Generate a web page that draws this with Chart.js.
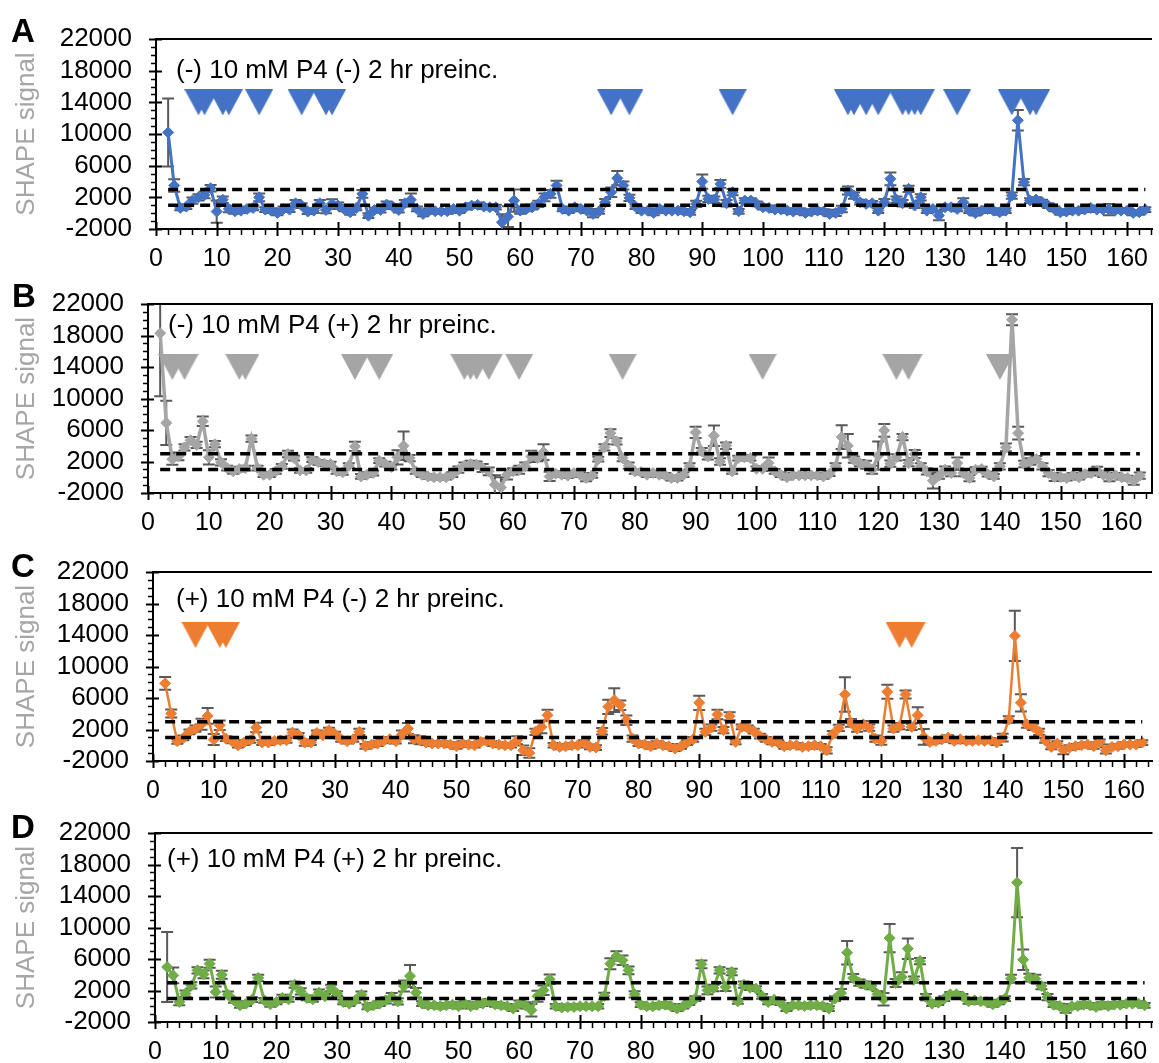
<!DOCTYPE html>
<html>
<head>
<meta charset="utf-8">
<script src="https://cdn.jsdelivr.net/npm/chart.js@4.4.1/dist/chart.umd.min.js"></script>
<style>
  body { margin: 0; background: #fff; width: 1159px; height: 1063px; position: relative; overflow: hidden;
         font-family: "Liberation Sans", Arial, sans-serif; }
  canvas { position: absolute; left: 0; }
  .letter { position: absolute; font-weight: bold; font-size: 33px; line-height: 33px; color: #000; }
  .note { position: absolute; font-size: 26px; line-height: 26px; color: #000; white-space: nowrap; }
</style>
</head>
<body>
<canvas id="chartA" width="1159" height="270" style="top:4px"></canvas>
<canvas id="chartB" width="1159" height="269" style="top:269px"></canvas>
<canvas id="chartC" width="1159" height="269" style="top:537px"></canvas>
<canvas id="chartD" width="1159" height="269" style="top:798px"></canvas>

<div class="letter" style="left:11px;top:14px">A</div>
<div class="letter" style="left:12px;top:279px">B</div>
<div class="letter" style="left:11px;top:549px">C</div>
<div class="letter" style="left:11px;top:810px">D</div>

<div class="note" style="left:176px;top:56px">(-) 10 mM P4 (-) 2 hr preinc.</div>
<div class="note" style="left:168px;top:311px">(-) 10 mM P4 (+) 2 hr preinc.</div>
<div class="note" style="left:176px;top:585px">(+) 10 mM P4 (-) 2 hr preinc.</div>
<div class="note" style="left:167px;top:845px">(+) 10 mM P4 (+) 2 hr preinc.</div>

<script>
// ---------------------------
// Data (nucleotide 2..163)
// ---------------------------
const nt = Array.from({ length: 162 }, (_, i) => i + 2);

const thresholds = [3000, 1000];
const markLevel = 14000;
const yMin = -2000, yMax = 22000, yStep = 4000;
const xStep = 10;

// (-) P4 (-) preinc.
const aSignal = [
  10200, 3500, 660, 830, 1590, 2000, 2300, 3150, 200, 1700,
  530, 240, 320, 530, 660, 2000, 450, 320, 30, 530,
  450, 1250, 960, 200, 320, 1250, 400, 1170, 960, 530,
  110, 660, 2440, -320, 400, 400, 1080, 830, 400, 1250,
  1680, 530, -100, 320, 240, 240, 240, 530, 320, 750,
  960, 1040, 830, 750, 750, -1150, -440, 1590, 320, 530,
  750, 1170, 2000, 2440, 3500, 530, 320, 750, 530, 320,
  -100, 240, 1380, 2650, 4420, 3500, 1930, 830, 320, 320,
  30, 530, 320, 320, 320, 240, 110, 1170, 4000, 1800,
  1720, 3700, 1250, 2650, 240, 1590, 1590, 1170, 750, 660,
  450, 450, 320, 200, 320, 30, 200, 320, 200, -100,
  30, 530, 2860, 2220, 1380, 1170, 1250, 320, 1380, 4340,
  1720, 1250, 3070, 960, 2000, 320, 530, -310, 750, 750,
  530, 1380, 320, 0, 320, 530, 320, 110, 320, 2220,
  11730, 3920, 1590, 1720, 1380, 960, 530, 110, 200, 320,
  320, 450, 660, 450, 450, 450, 320, 320, 320, 30,
  110, 450
];
const aError = [
  4300, 800, 300, 300, 400, 400, 400, 400, 1400, 400,
  400, 300, 300, 300, 300, 500, 300, 300, 300, 300,
  300, 400, 300, 300, 300, 400, 400, 600, 400, 300,
  300, 300, 500, 300, 300, 300, 400, 300, 300, 400,
  800, 300, 300, 300, 300, 300, 300, 300, 300, 300,
  300, 300, 300, 300, 300, 1000, 1300, 1400, 400, 300,
  300, 400, 500, 500, 600, 300, 300, 300, 300, 300,
  400, 300, 400, 600, 900, 500, 400, 300, 300, 300,
  300, 300, 300, 300, 300, 300, 300, 400, 900, 400,
  400, 500, 400, 400, 300, 300, 300, 300, 300, 300,
  300, 300, 300, 300, 300, 300, 300, 300, 300, 300,
  400, 400, 500, 400, 300, 300, 300, 300, 400, 800,
  400, 400, 400, 300, 400, 300, 300, 600, 300, 300,
  300, 500, 300, 300, 300, 300, 300, 300, 300, 400,
  1300, 400, 300, 300, 300, 300, 300, 300, 300, 300,
  300, 300, 300, 300, 300, 700, 300, 300, 300, 300,
  300, 300
];
const aMarks = [7, 8, 11, 12, 17, 24, 28, 29, 75, 78, 95, 114, 115, 117, 119, 123, 124, 125, 126, 132, 141, 144, 145];

// (-) P4 (+) preinc.
const bSignal = [
  18300, 6900, 2300, 2650, 3800, 4700, 4100, 7100, 2530, 4200,
  1900, 1170, 750, 1040, 1170, 4900, 1170, 320, 320, 750,
  1380, 2950, 2440, 870, 870, 2230, 1900, 1720, 1680, 750,
  620, 1470, 3920, 110, 320, 530, 2100, 1680, 1300, 2530,
  4000, 2440, 750, 320, 110, 0, 0, 0, 320, 960,
  1470, 1680, 1590, 1170, 750, -950, -1300, 320, 750, 960,
  1380, 2650, 2440, 3200, 110, 450, 320, 200, 530, 320,
  -100, 240, 2300, 3800, 5600, 4550, 2440, 1470, 750, 660,
  320, 530, 320, 240, -100, -100, 320, 1380, 5700, 3300,
  2650, 5280, 2000, 4000, 750, 2440, 2530, 2440, 1080, 1080,
  1800, 750, 320, 0, 240, 240, 240, 240, 240, 110,
  450, 1380, 5100, 4000, 2230, 1800, 1590, 960, 2740, 5950,
  1720, 2530, 5100, 1800, 2950, 1380, 750, -440, 200, 960,
  530, 1800, 530, -100, 960, 1040, 400, 110, 1380, 3800,
  20000, 5600, 1680, 2000, 2300, 1380, 530, 30, 30, -100,
  240, 0, 400, 530, 830, 320, 0, 240, 0, -100,
  -440, 200
];
const bError = [
  8000, 2800, 700, 500, 400, 400, 400, 600, 900, 400,
  400, 300, 300, 300, 300, 400, 300, 300, 300, 300,
  300, 400, 300, 300, 300, 300, 300, 300, 300, 300,
  300, 300, 600, 300, 300, 300, 300, 300, 300, 900,
  1800, 400, 300, 300, 300, 300, 300, 300, 300, 400,
  400, 400, 400, 500, 500, 1200, 1300, 600, 400, 500,
  500, 700, 400, 1000, 600, 300, 300, 300, 300, 300,
  400, 300, 300, 400, 500, 400, 400, 400, 300, 300,
  300, 300, 300, 300, 300, 300, 300, 400, 700, 400,
  400, 1300, 400, 400, 300, 300, 300, 300, 300, 300,
  700, 300, 300, 300, 300, 300, 300, 300, 300, 300,
  300, 400, 1500, 1500, 400, 400, 500, 500, 1800, 800,
  400, 400, 400, 400, 500, 400, 400, 1000, 400, 400,
  400, 700, 400, 400, 300, 300, 300, 300, 400, 500,
  700, 800, 400, 400, 400, 400, 400, 500, 300, 300,
  300, 300, 300, 300, 500, 300, 500, 300, 300, 300,
  500, 400
];
const bMarks = [4, 6, 15, 16, 34, 38, 52, 53, 54, 56, 61, 78, 101, 123, 125, 140];

// (+) P4 (-) preinc.
const cSignal = [
  7860, 4030, 500, 930, 1700, 2100, 2670, 3730, 720, 2550,
  850, 550, 0, 340, 630, 2250, 340, 340, 550, 630,
  630, 1610, 1270, 340, 340, 1570, 1270, 1910, 1400, 760,
  510, 760, 1700, -130, 80, 210, 550, 760, 510, 1360,
  2120, 760, 630, 340, 210, 210, 210, 80, -130, 210,
  80, 0, 420, 550, 210, 80, 0, 0, 630, -640,
  -980, 1700, 2330, 3820, 0, -210, -130, 0, 0, 340,
  -210, -300, 1780, 4880, 5730, 5090, 3180, 850, 210, 80,
  -130, 210, 0, -130, -420, -130, 340, 760, 5390, 1700,
  2250, 3900, 1910, 3690, 420, 2330, 2200, 1780, 1150, 760,
  420, 340, -130, 0, 0, -210, -130, 0, -130, -640,
  1400, 2200, 6450, 2840, 2120, 2670, 2250, 850, 550, 6790,
  2120, 2420, 6450, 2330, 3820, 1060, 420, 550, 760, 970,
  550, 760, 550, 550, 630, 550, 630, 340, 970, 3270,
  13890, 5390, 2630, 2330, 1700, 630, -210, 210, -640, -300,
  -130, 0, 80, -130, 420, -640, -210, -130, 80, 80,
  80, 340
];
const cError = [
  800, 500, 300, 300, 300, 400, 700, 1000, 700, 600,
  300, 300, 300, 300, 300, 600, 300, 300, 300, 300,
  300, 400, 300, 400, 300, 300, 300, 300, 300, 300,
  300, 300, 400, 300, 300, 300, 300, 300, 300, 500,
  700, 500, 500, 300, 300, 300, 300, 300, 300, 300,
  300, 300, 300, 300, 300, 300, 300, 300, 500, 600,
  600, 400, 800, 700, 300, 300, 300, 300, 300, 300,
  300, 300, 400, 900, 1500, 600, 600, 400, 300, 300,
  300, 300, 300, 300, 300, 300, 300, 300, 900, 400,
  400, 600, 400, 500, 300, 300, 300, 300, 300, 300,
  300, 300, 300, 300, 300, 300, 300, 300, 300, 400,
  400, 400, 2200, 500, 400, 400, 400, 400, 500, 900,
  400, 400, 500, 400, 1000, 1000, 300, 300, 300, 300,
  300, 300, 300, 300, 300, 300, 300, 300, 500, 400,
  3200, 1100, 400, 400, 400, 300, 300, 300, 500, 300,
  300, 300, 300, 300, 300, 400, 300, 300, 300, 300,
  300, 300
];
const cMarks = [7, 11, 12, 123, 125];

// (+) P4 (+) preinc.
const dSignal = [
  4980, 3920, 540, 1600, 2650, 4560, 4050, 5400, 1810, 4000,
  1470, 750, 120, 330, 840, 3590, 750, 240, 540, 1050,
  880, 2740, 1890, 1050, 880, 1720, 1260, 2320, 1600, 540,
  330, 750, 1470, -90, 120, 330, 750, 1170, 620, 2570,
  3840, 1720, 330, 120, 120, 0, 120, 200, 0, 330,
  0, 200, 330, 620, 240, 120, 0, -300, 330, 120,
  -510, 1260, 2020, 3420, 0, -170, -90, -90, 0, 0,
  0, 0, 1300, 5400, 6380, 5830, 4560, 1510, 200, 0,
  0, 120, 200, 0, -300, 0, 450, 960, 5320, 2020,
  2320, 4560, 2440, 4350, 620, 2740, 2360, 2230, 1260, 540,
  840, 450, -300, 120, 120, 30, 120, 120, 30, -300,
  960, 1680, 6800, 3590, 3000, 2740, 2570, 1510, 880, 8660,
  2950, 3710, 7310, 3370, 5740, 1170, 330, 450, 960, 1510,
  1510, 1260, 620, 750, 620, 540, 240, 540, 960, 3500,
  15700, 5910, 3630, 3500, 2570, 1170, 200, 30, -430, 0,
  30, 200, 120, -90, 200, 30, 200, 200, 330, 330,
  330, 120
];
const dError = [
  4450, 1000, 400, 400, 400, 400, 500, 500, 700, 500,
  400, 300, 300, 300, 300, 400, 300, 300, 300, 400,
  300, 400, 400, 300, 300, 400, 300, 400, 300, 300,
  300, 300, 400, 300, 300, 300, 400, 500, 400, 700,
  1400, 600, 300, 300, 300, 300, 300, 300, 300, 300,
  300, 300, 300, 300, 300, 300, 300, 300, 400, 400,
  800, 700, 600, 600, 300, 300, 300, 300, 300, 300,
  300, 300, 400, 700, 600, 600, 500, 400, 300, 300,
  300, 300, 300, 300, 300, 300, 300, 300, 500, 500,
  400, 400, 500, 400, 300, 400, 300, 300, 300, 300,
  300, 300, 300, 300, 300, 300, 300, 300, 300, 300,
  300, 500, 1500, 500, 400, 400, 400, 400, 800, 1800,
  500, 600, 1300, 400, 400, 400, 300, 300, 300, 300,
  300, 300, 300, 300, 300, 300, 300, 300, 300, 500,
  4400, 1300, 500, 500, 400, 400, 300, 300, 400, 300,
  300, 300, 300, 300, 300, 300, 300, 300, 300, 300,
  300, 300
];
const dMarks = [];

// ---------------------------
// Panel layout / style
// ---------------------------
const panels = [
  { id: "chartA", signal: aSignal, error: aError, marks: aMarks, color: "#4472c4", width: 3, left: 156, padRight: 0, xMax: 164.1, box: false },
  { id: "chartB", signal: bSignal, error: bError, marks: bMarks, color: "#a5a5a5", width: 3.5, left: 148, padRight: 2, xMax: 165, box: true },
  { id: "chartC", signal: cSignal, error: cError, marks: cMarks, color: "#ed7d31", width: 2.5, left: 153, padRight: 0, xMax: 164.6, box: false },
  { id: "chartD", signal: dSignal, error: dError, marks: dMarks, color: "#70ad47", width: 3, left: 155, padRight: 0, xMax: 164.3, box: false }
];

function triangleImage(color) {
  const c = document.createElement("canvas");
  c.width = 28; c.height = 26;
  const g = c.getContext("2d");
  g.fillStyle = color;
  g.beginPath();
  g.moveTo(0, 0); g.lineTo(28, 0); g.lineTo(14, 26);
  g.closePath();
  g.fill();
  return c;
}

// error bars, minor/major ticks, frame
function makeDecor(p) {
  return {
    id: "decor",
    beforeDatasetsDraw(chart) {
      const { ctx, chartArea: a, scales: { x, y } } = chart;
      ctx.save();
      ctx.beginPath();
      ctx.rect(a.left, a.top, a.right - a.left, a.bottom - a.top);
      ctx.clip();
      ctx.strokeStyle = "#595959";
      ctx.lineWidth = 2;
      p.signal.forEach((v, i) => {
        const px = x.getPixelForValue(nt[i]);
        const hi = y.getPixelForValue(v + p.error[i]);
        const lo = y.getPixelForValue(v - p.error[i]);
        ctx.beginPath();
        ctx.moveTo(px, hi); ctx.lineTo(px, lo);
        ctx.moveTo(px - 6, hi); ctx.lineTo(px + 6, hi);
        ctx.moveTo(px - 6, lo); ctx.lineTo(px + 6, lo);
        ctx.stroke();
      });
      ctx.restore();
    },
    afterDraw(chart) {
      const { ctx, chartArea: a, scales: { x, y } } = chart;
      ctx.save();
      ctx.strokeStyle = "#000";
      // x ticks
      for (let v = 0; v <= p.xMax; v += 2) {
        const px = Math.round(x.getPixelForValue(v)) + 0.5;
        const major = v % xStep === 0;
        ctx.lineWidth = major ? 2 : 1.5;
        ctx.beginPath();
        ctx.moveTo(px, major ? a.bottom - 7 : a.bottom);
        ctx.lineTo(px, a.bottom + (major ? 7 : 6));
        ctx.stroke();
      }
      // y ticks
      for (let v = yMin; v <= yMax; v += 1000) {
        const py = Math.round(y.getPixelForValue(v)) + 0.5;
        const major = (v - yMin) % yStep === 0;
        ctx.lineWidth = major ? 2 : 1.5;
        ctx.beginPath();
        ctx.moveTo(a.left - (major ? 7 : 5), py);
        ctx.lineTo(a.left + (major ? 6 : 0), py);
        ctx.stroke();
      }
      // frame
      ctx.lineWidth = 2;
      ctx.beginPath();
      ctx.moveTo(a.left, a.top); ctx.lineTo(a.right, a.top);
      if (p.box) { ctx.lineTo(a.right, a.bottom); }
      ctx.stroke();
      ctx.restore();
    }
  };
}

function renderPanel(p) {
  const ctx = document.getElementById(p.id).getContext("2d");
  const first = nt[0], last = nt[nt.length - 1];

  const datasets = thresholds.map(t => ({
    type: "line",
    data: [{ x: first, y: t }, { x: last, y: t }],
    borderColor: "#000",
    borderWidth: 3.5,
    borderDash: [10, 6],
    pointRadius: 0,
    order: 0
  }));

  datasets.push({
    type: "line",
    data: p.marks.map(m => ({ x: m, y: markLevel })),
    showLine: false,
    pointStyle: triangleImage(p.color),
    pointRadius: 6,
    order: 1
  });

  datasets.push({
    type: "line",
    data: p.signal.map((v, i) => ({ x: nt[i], y: v })),
    borderColor: p.color,
    borderWidth: p.width,
    backgroundColor: p.color,
    pointStyle: "rectRot",
    pointRadius: 5.5,
    pointBackgroundColor: p.color,
    pointBorderColor: p.color,
    pointBorderWidth: 1,
    tension: 0,
    order: 2
  });

  return new Chart(ctx, {
    type: "line",
    data: { datasets },
    plugins: [makeDecor(p)],
    options: {
      responsive: false,
      animation: false,
      devicePixelRatio: 1,
      events: [],
      layout: { padding: { top: 35, right: p.padRight, bottom: 0, left: 0 } },
      plugins: { legend: { display: false }, tooltip: { enabled: false } },
      scales: {
        x: {
          type: "linear",
          min: 0,
          max: p.xMax,
          grid: { display: false, drawTicks: false },
          border: { display: true, color: "#000", width: 2 },
          ticks: {
            stepSize: xStep,
            includeBounds: false,
            maxRotation: 0,
            autoSkip: false,
            padding: 15,
            color: "#000",
            font: { family: "Liberation Sans", size: 25 },
            callback: v => (v % xStep === 0 ? String(v) : "")
          },
          afterFit: s => { s.height = 45; s.paddingLeft = 0; s.paddingRight = 0; }
        },
        y: {
          min: yMin,
          max: yMax,
          grid: { display: false, drawTicks: false },
          border: { display: true, color: "#000", width: 2 },
          ticks: {
            stepSize: yStep,
            autoSkip: false,
            padding: 24,
            color: "#000",
            font: { family: "Liberation Sans", size: 26 },
            callback: v => String(v)
          },
          title: {
            display: true,
            text: "SHAPE signal",
            color: "#a6a6a6",
            padding: { top: 11, bottom: 0 },
            font: { family: "Liberation Sans", size: 26 }
          },
          afterFit: s => { s.width = p.left; s.paddingTop = 0; s.paddingBottom = 0; }
        }
      }
    }
  });
}

panels.forEach(renderPanel);
</script>
</body>
</html>
